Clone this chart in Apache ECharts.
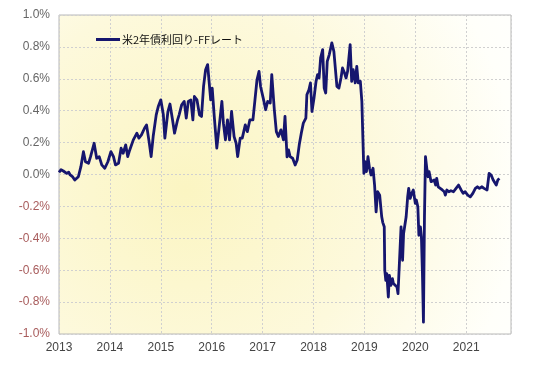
<!DOCTYPE html>
<html>
<head>
<meta charset="utf-8">
<script src="https://cdn.jsdelivr.net/npm/echarts@6/dist/echarts.min.js"></script>
<style>html,body{margin:0;padding:0;background:#fff;}#c{width:540px;height:373px;}</style>
</head>
<body>
<div id="c"></div>
<script>
var seriesName = '米2年債利回り-FFレート';
var yearTicks = [2013, 2014, 2015, 2016, 2017, 2018, 2019, 2020, 2021];
var yTicks = [-1.0, -0.8, -0.6, -0.4, -0.2, 0.0, 0.2, 0.4, 0.6, 0.8, 1.0];
var dates = [
2013.00,2013.04,2013.085,2013.12,2013.15,2013.19,2013.22,2013.27,2013.31,2013.38,2013.43,2013.48,2013.52,2013.58,2013.62,2013.69,2013.74,2013.79,2013.84,2013.90,2013.96,
2014.02,2014.07,2014.11,2014.17,2014.22,2014.26,2014.31,2014.35,2014.39,2014.46,2014.53,2014.57,2014.62,2014.68,2014.72,2014.77,2014.81,2014.85,2014.91,2014.95,
2015.00,2015.05,2015.08,2015.14,2015.18,2015.23,2015.27,2015.33,2015.36,2015.41,2015.46,2015.50,2015.54,2015.59,2015.63,2015.66,2015.71,2015.76,2015.80,2015.84,2015.88,2015.92,2015.95,2015.98,
2016.01,2016.05,2016.10,2016.14,2016.20,2016.23,2016.27,2016.31,2016.35,2016.39,2016.44,2016.48,2016.51,2016.56,2016.60,2016.66,2016.70,2016.75,2016.81,2016.85,2016.89,2016.93,2016.96,
2017.02,2017.06,2017.10,2017.15,2017.18,2017.23,2017.27,2017.31,2017.36,2017.41,2017.44,2017.48,2017.51,2017.54,2017.59,2017.64,2017.68,2017.72,2017.76,2017.80,2017.85,2017.87,2017.91,2017.94,2017.97,
2018.01,2018.05,2018.08,2018.11,2018.14,2018.18,2018.21,2018.24,2018.27,2018.31,2018.36,2018.40,2018.43,2018.46,2018.50,2018.54,2018.57,2018.61,2018.64,2018.67,2018.72,2018.75,2018.78,2018.82,2018.85,2018.88,2018.92,2018.95,2018.97,2018.99,
2019.01,2019.04,2019.07,2019.10,2019.13,2019.17,2019.20,2019.23,2019.26,2019.30,2019.34,2019.36,2019.39,2019.40,2019.42,2019.44,2019.47,2019.49,2019.52,2019.55,2019.57,2019.60,2019.64,2019.66,2019.69,2019.72,2019.75,2019.77,2019.80,2019.82,2019.85,2019.87,2019.90,2019.93,2019.96,
2020.00,2020.02,2020.05,2020.07,2020.10,2020.12,2020.14,2020.16,2020.18,2020.20,2020.23,2020.25,2020.27,2020.31,2020.34,2020.37,2020.40,2020.42,2020.45,2020.49,2020.53,2020.57,2020.59,2020.62,2020.66,2020.70,2020.75,2020.80,2020.85,2020.90,2020.94,2020.98,
2021.03,2021.08,2021.13,2021.18,2021.22,2021.26,2021.31,2021.35,2021.41,2021.45,2021.49,2021.53,2021.56,2021.59,2021.62,2021.65
];
var spread = [
0.014,0.03,0.022,0.012,0.007,0.015,-0.003,-0.015,-0.035,-0.014,0.049,0.143,0.08,0.07,0.112,0.196,0.102,0.112,0.06,0.039,0.08,
0.143,0.112,0.06,0.07,0.165,0.133,0.186,0.112,0.154,0.217,0.259,0.228,0.248,0.29,0.311,0.206,0.112,0.238,0.374,0.426,
0.468,0.374,0.228,0.395,0.442,0.343,0.259,0.343,0.374,0.437,0.458,0.353,0.458,0.468,0.343,0.489,0.468,0.374,0.364,0.552,0.657,0.689,0.699,0.468,
0.542,0.364,0.165,0.28,0.458,0.322,0.217,0.343,0.217,0.395,0.238,0.196,0.112,0.228,0.228,0.311,0.269,0.343,0.343,0.468,0.594,0.647,0.552,
0.468,0.406,0.458,0.448,0.626,0.406,0.269,0.238,0.28,0.217,0.364,0.11,0.154,0.112,0.102,0.06,0.091,0.186,0.259,0.322,0.353,0.5,0.531,0.574,0.395,
0.479,0.584,0.626,0.605,0.731,0.783,0.542,0.511,0.709,0.752,0.825,0.772,0.783,0.552,0.542,0.605,0.668,0.636,0.605,0.647,0.814,0.584,0.657,0.574,0.678,0.574,0.584,0.458,0.228,0.007,
0.08,0.018,0.112,0.039,-0.003,0.039,-0.066,-0.234,-0.108,-0.13,-0.265,-0.3,-0.328,-0.6,-0.663,-0.621,-0.768,-0.632,-0.695,-0.653,-0.684,-0.695,-0.706,-0.747,-0.538,-0.328,-0.538,-0.37,-0.381,-0.265,-0.14,-0.087,-0.15,-0.118,-0.097,
-0.181,-0.16,-0.202,-0.381,-0.328,-0.391,-0.621,-0.926,-0.265,0.112,0.028,-0.014,0.018,-0.045,-0.055,-0.035,-0.066,-0.024,-0.077,-0.087,-0.097,-0.108,-0.129,-0.097,-0.108,-0.102,-0.108,-0.087,-0.066,-0.097,-0.118,-0.108,
-0.129,-0.14,-0.118,-0.087,-0.077,-0.087,-0.077,-0.087,-0.097,0.007,-0.003,-0.035,-0.024,-0.066,-0.035,-0.024
];

var data = dates.map(function (d, i) { return [d, spread[i]]; });
var chart = echarts.init(document.getElementById('c'), null, {renderer: 'canvas'});
var font = '"Liberation Sans", Arial, sans-serif';
chart.setOption({
  animation: false,
  backgroundColor: '#ffffff',
  grid: {
    left: 59, right: 29, top: 15, bottom: 39,
    show: true,
    borderColor: '#b8b8b8', borderWidth: 1,
    backgroundColor: new echarts.graphic.RadialGradient(0.28, 0.55, 1.3, [
      {offset: 0, color: '#fbf5c2'},
      {offset: 0.45, color: '#fdf9dc'},
      {offset: 0.8, color: '#fffffa'},
      {offset: 1, color: '#ffffff'}
    ])
  },
  legend: {
    left: 96, top: 34, padding: 0,
    icon: 'rect', itemWidth: 24, itemHeight: 3, itemGap: 2,
    textStyle: {fontSize: 11, color: '#111', fontFamily: '"Noto Sans CJK JP", sans-serif', padding: [0, 0, 0, -3]},
    data: [seriesName]
  },
  xAxis: {
    type: 'value', min: yearTicks[0], max: 2021.88, interval: 1,
    axisLine: {show: false}, axisTick: {show: false},
    axisLabel: {
      color: '#444', fontSize: 12, fontFamily: font, margin: 8, showMaxLabel: false,
      formatter: function (v) { return yearTicks.indexOf(Math.round(v * 1000) / 1000) >= 0 ? String(v) : ''; }
    },
    splitLine: {show: true, lineStyle: {color: '#d0d0d0', type: [2, 2], width: 1}}
  },
  yAxis: {
    type: 'value', min: yTicks[0], max: yTicks[yTicks.length - 1], interval: 0.2,
    axisLine: {show: false}, axisTick: {show: false},
    axisLabel: {
      fontSize: 12, fontFamily: font, margin: 9,
      formatter: function (v) { return (v < -0.001 ? '-' : '') + Math.abs(v).toFixed(1) + '%'; },
      color: function (v) { return v < -0.001 ? '#a85c5c' : '#666666'; }
    },
    splitLine: {show: true, lineStyle: {color: '#d0d0d0', type: [2, 2], width: 1}}
  },
  series: [{
    name: seriesName, type: 'line', data: data,
    showSymbol: false, symbol: 'none',
    lineStyle: {color: '#16166e', width: 2.8, join: 'round'},
    itemStyle: {color: '#16166e'}
  }]
});
</script>
</body>
</html>
